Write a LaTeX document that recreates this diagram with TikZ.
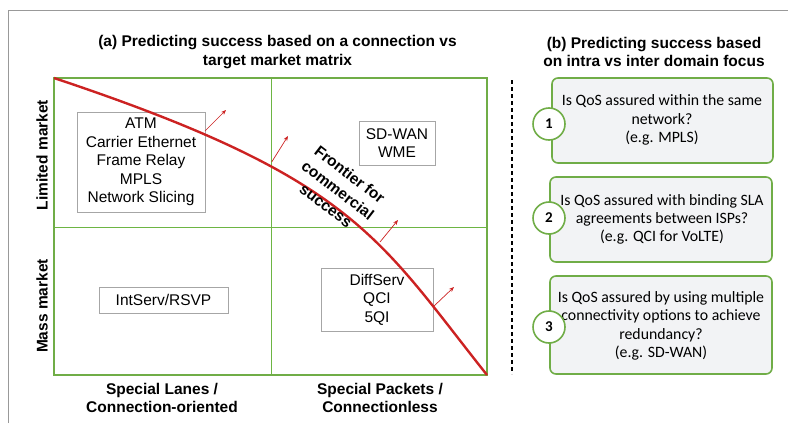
\documentclass[tikz,border=0pt]{standalone}
\usepackage{fontspec}
\setmainfont{Liberation Sans}
\newfontfamily\calib{Carlito}
\usetikzlibrary{arrows.meta}
\definecolor{mgreen}{HTML}{70AD47}
\definecolor{lgreen}{HTML}{6DB543}
\definecolor{mred}{HTML}{CC2222}
\definecolor{boxgrey}{HTML}{A6A6A6}
\definecolor{qfill}{HTML}{F2F3F5}
\tikzset{
  techbox/.style={draw=boxgrey, line width=0.9pt, fill=white, align=center, font=\fontsize{15.5}{18.5}\selectfont, inner sep=0pt},
  boldlbl/.style={font=\bfseries\fontsize{15.5}{18.5}\selectfont, align=center, inner sep=0pt},
  qbox/.style={draw=mgreen, line width=1.6pt, fill=qfill, rounded corners=6pt, inner sep=0pt},
  qtext/.style={font=\calib\fontsize{15.8}{18.3}\selectfont, align=center, inner sep=0pt},
  numcirc/.style={circle, draw=mgreen, line width=1.6pt, fill=white, minimum size=32pt, inner sep=0pt, font=\calib\bfseries\fontsize{15}{16}\selectfont},
  normarrow/.style={draw=mred, line width=0.7pt, -{Stealth[length=5pt,width=4pt]}},
  gridline/.style={draw=lgreen, line width=1.1pt},
}
\begin{document}
\begin{tikzpicture}[x=1pt,y=-1pt]
\useasboundingbox (0,0) rectangle (788,426);
% outer frame
\draw[color=gray!80, line width=1pt] (8,423) -- (8,10) -- (788,10);
% titles
\node[boldlbl] (ta) at (277.5,52) {(a) Predicting success based on a connection vs\\target market matrix};
\node[boldlbl] (tb) at (654,52) {(b) Predicting success based\\on intra vs inter domain focus};
% matrix
\coordinate (tl) at (54,78);
\coordinate (br) at (487,375);
\draw[gridline] (271.5,78) -- (271.5,375);
\draw[gridline] (54,227.5) -- (487,227.5);
\draw[mgreen, line width=1.6pt] (tl) rectangle (br);
% tech boxes
\node[techbox, minimum width=128pt, minimum height=100pt] (atm) at (141,162) {ATM\\Carrier Ethernet\\Frame Relay\\MPLS\\Network Slicing};
\node[techbox, minimum width=76pt, minimum height=44pt] (sdwan) at (397,143) {SD-WAN\\WME};
\node[techbox, minimum width=129pt, minimum height=26pt] (intserv) at (163.5,300) {IntServ/RSVP};
\node[techbox, minimum width=112pt, minimum height=63pt] (diffserv) at (377,299.5) {DiffServ\\QCI\\5QI};
% frontier curve
\draw[mred, line width=2.4pt] (tl) .. controls (354,178) and (377,236.4) .. (br);
\coordinate (f1) at (205,131);
\coordinate (f2) at (271.7,162);
\coordinate (f3) at (380,242);
\coordinate (f4) at (433,307);
\coordinate (g1) at (226,110);
\coordinate (g2) at (288,136);
\coordinate (g3) at (398,220);
\coordinate (g4) at (454,287);
\draw[normarrow] (f1) -- (g1);
\draw[normarrow] (f2) -- (g2);
\draw[normarrow] (f3) -- (g3);
\draw[normarrow] (f4) -- (g4);
\node[boldlbl, rotate=-37.6, font=\bfseries\fontsize{15.5}{19.5}\selectfont] (front) at (338,190) {Frontier for\\commercial\\success};
% axis labels
\node[boldlbl, rotate=90] (lim) at (42,155) {Limited market};
\node[boldlbl, rotate=90] (mass) at (42,306) {Mass market};
\node[boldlbl] (xl) at (162,398) {Special Lanes /\\Connection-oriented};
\node[boldlbl] (xr) at (380,398) {Special Packets /\\Connectionless};
% divider
\draw[line width=1.4pt, dash pattern=on 4pt off 3pt] (512,80) -- (512,374);
% question boxes
\node[qbox, minimum width=221pt, minimum height=85pt] (q1) at (662.5,120.5) {};
\node[qbox, minimum width=222pt, minimum height=85pt] (q2) at (661,219.5) {};
\node[qbox, minimum width=222pt, minimum height=98pt] (q3) at (661,325) {};
\node[qtext] (q1t) at (662,120) {Is QoS assured within the same\\network?\\(e.g. MPLS)};
\node[qtext] (q2t) at (662,219.5) {Is QoS assured with binding SLA\\agreements between ISPs?\\(e.g. QCI for VoLTE)};
\node[qtext] (q3t) at (661,326) {Is QoS assured by using multiple\\connectivity options to achieve\\redundancy?\\(e.g. SD-WAN)};
\node[numcirc] (c1) at (549,124) {1};
\node[numcirc] (c2) at (549,218) {2};
\node[numcirc] (c3) at (549,327) {3};
\end{tikzpicture}
\end{document}
